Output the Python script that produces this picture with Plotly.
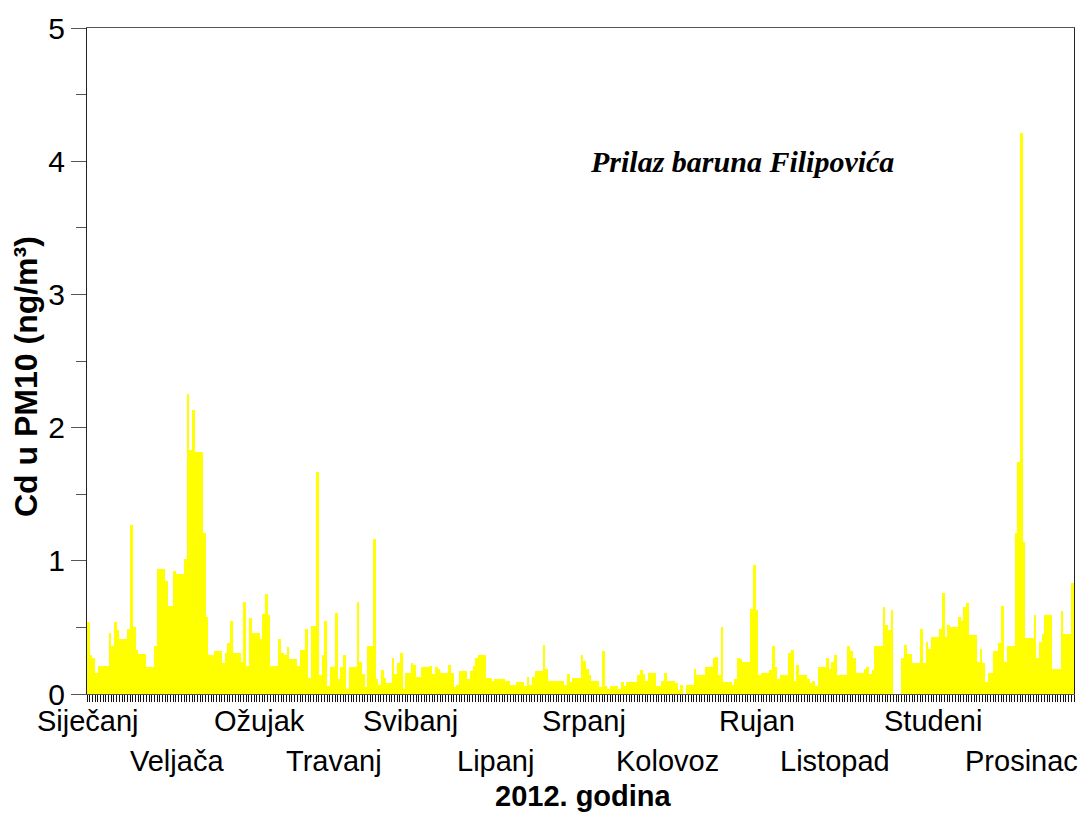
import plotly.graph_objects as go

# ---- data: daily Cd in PM10 (ng/m3), 2012 ----
jan = [0.54, 0.29, 0.27, 0.16, 0.21, 0.21, 0.21, 0.21, 0.46, 0.36, 0.54, 0.48, 0.41, 0.41, 0.41, 0.49,
       1.27, 0.50, 0.33, 0.30, 0.30, 0.30, 0.20, 0.20, 0.20, 0.36, 0.94, 0.94, 0.94, 0.85, 0.66]
feb = [0.66, 0.92, 0.90, 0.90, 0.90, 1.01, 2.25, 1.83, 2.13, 1.82, 1.82, 1.82, 1.21, 0.58, 0.29, 0.29,
       0.32, 0.32, 0.32, 0.23, 0.31, 0.38, 0.55, 0.31, 0.31, 0.31, 0.24, 0.69, 0.21]
mar = [0.57, 0.46, 0.46, 0.46, 0.41, 0.60, 0.75, 0.59, 0.21, 0.21, 0.21, 0.41, 0.31, 0.29, 0.35, 0.26,
       0.26, 0.26, 0.21, 0.33, 0.33, 0.49, 0.12, 0.51, 0.51, 1.67, 0.14, 0.29, 0.55, 0.06, 0.20]
apr = [0.20, 0.61, 0.11, 0.20, 0.29, 0.04, 0.20, 0.20, 0.20, 0.69, 0.24, 0.15, 0.05, 0.36, 0.36, 1.16,
       0.11, 0.07, 0.18, 0.12, 0.08, 0.08, 0.27, 0.15, 0.23, 0.31, 0.04, 0.16, 0.16, 0.23]
may = [0.22, 0.13, 0.13, 0.20, 0.20, 0.20, 0.21, 0.15, 0.20, 0.19, 0.16, 0.16, 0.16, 0.22, 0.16, 0.05,
       0.07, 0.17, 0.17, 0.17, 0.11, 0.17, 0.21, 0.27, 0.29, 0.29, 0.29, 0.12, 0.12, 0.10, 0.11]
jun = [0.11, 0.11, 0.11, 0.10, 0.10, 0.07, 0.07, 0.09, 0.09, 0.09, 0.06, 0.13, 0.07, 0.13, 0.17, 0.17,
       0.17, 0.37, 0.19, 0.10, 0.10, 0.10, 0.10, 0.10, 0.10, 0.07, 0.15, 0.09, 0.12, 0.12]
jul = [0.12, 0.29, 0.25, 0.19, 0.14, 0.10, 0.10, 0.10, 0.05, 0.32, 0.06, 0.04, 0.06, 0.06, 0.06, 0.04,
       0.09, 0.06, 0.09, 0.09, 0.09, 0.09, 0.14, 0.18, 0.15, 0.10, 0.16, 0.16, 0.16, 0.06, 0.06]
aug = [0.10, 0.16, 0.10, 0.10, 0.10, 0.08, 0.03, 0.07, 0.00, 0.07, 0.07, 0.07, 0.19, 0.14, 0.14, 0.14,
       0.20, 0.20, 0.20, 0.27, 0.28, 0.14, 0.50, 0.09, 0.09, 0.09, 0.07, 0.11, 0.27, 0.26, 0.24]
sep = [0.24, 0.24, 0.64, 0.97, 0.63, 0.14, 0.16, 0.16, 0.16, 0.18, 0.36, 0.20, 0.11, 0.14, 0.14, 0.14,
       0.31, 0.33, 0.10, 0.22, 0.14, 0.14, 0.14, 0.11, 0.08, 0.10, 0.06, 0.20, 0.20, 0.20]
oct_ = [0.27, 0.19, 0.24, 0.29, 0.14, 0.14, 0.14, 0.14, 0.36, 0.32, 0.27, 0.16, 0.16, 0.16, 0.19, 0.20,
        0.15, 0.18, 0.36, 0.36, 0.36, 0.65, 0.52, 0.48, 0.63, 0.00, 0.00, 0.00, 0.27, 0.37, 0.30]
nov = [0.30, 0.23, 0.23, 0.23, 0.49, 0.23, 0.39, 0.34, 0.43, 0.43, 0.43, 0.49, 0.76, 0.43, 0.52, 0.50,
       0.50, 0.50, 0.58, 0.55, 0.65, 0.68, 0.44, 0.44, 0.44, 0.24, 0.34, 0.23, 0.09, 0.16]
dec = [0.16, 0.32, 0.32, 0.38, 0.66, 0.24, 0.36, 0.36, 0.36, 1.21, 1.74, 4.21, 1.14, 0.42, 0.42, 0.42,
       0.59, 0.27, 0.39, 0.45, 0.59, 0.59, 0.59, 0.19, 0.19, 0.19, 0.62, 0.45, 0.45, 0.45, 0.83]

month_names = ["Siječanj", "Veljača", "Ožujak", "Travanj", "Svibanj", "Lipanj",
               "Srpanj", "Kolovoz", "Rujan", "Listopad", "Studeni", "Prosinac"]
month_label_day = [0.4, 33.4, 64.1, 91.6, 119.8, 151.6, 184.3, 215.4, 248.4, 277.3, 313.7, 346.7]
y_ticks = [0, 1, 2, 3, 4, 5]

values = jan + feb + mar + apr + may + jun + jul + aug + sep + oct_ + nov + dec
day_centers = [i + 0.5 for i in range(len(values))]

fig = go.Figure(go.Bar(
    x=day_centers, y=values, width=1,
    marker=dict(color="#FFFF00", line=dict(width=0)),
    hoverinfo="x+y",
))

FONT = "Liberation Sans, Arial, sans-serif"

fig.update_layout(
    width=1086, height=814,
    margin=dict(l=87, r=12, t=28, b=120),
    plot_bgcolor="white", paper_bgcolor="white",
    bargap=0, showlegend=False,
    font=dict(family=FONT, color="black"),
)

fig.update_xaxes(
    range=[0, len(values)], tickmode="linear", tick0=0, dtick=1,
    ticks="outside", ticklen=7, tickwidth=1, tickcolor="#111",
    showticklabels=False, showgrid=False, zeroline=False,
    showline=True, linecolor="#555", linewidth=1, mirror=True,
    layer="below traces",
)
fig.update_yaxes(
    range=[0, 5], tickmode="array", tickvals=y_ticks,
    ticks="outside", ticklen=15, tickwidth=1, tickcolor="#555",
    tickfont=dict(size=30, family=FONT, color="black"),
    minor=dict(dtick=0.5, ticks="outside", ticklen=10, tickwidth=1, tickcolor="#555", showgrid=False),
    showgrid=False, zeroline=False,
    showline=True, linecolor="#222", linewidth=1, mirror=True,
)

annotations = []
for i, (name, d) in enumerate(zip(month_names, month_label_day)):
    annotations.append(dict(
        x=d, xref="x", y=-0.040 if i % 2 == 0 else -0.1006, yref="paper",
        text=name, showarrow=False, xanchor="center", yanchor="middle", borderpad=0,
        font=dict(size=29, family=FONT, color="black"),
    ))
annotations.append(dict(
    x=0.503, y=-0.153, xref="paper", yref="paper", text="<b>2012. godina</b>",
    showarrow=False, xanchor="center", yanchor="middle", borderpad=0,
    font=dict(size=29, family=FONT, color="black"),
))
annotations.append(dict(
    x=-0.0618, y=0.476, xref="paper", yref="paper", text="<b>Cd u PM10 (ng/m³)</b>",
    textangle=-90, showarrow=False, xanchor="center", yanchor="middle", borderpad=0,
    font=dict(size=32, family=FONT, color="black"),
))
annotations.append(dict(
    x=0.6636, y=0.799, xref="paper", yref="paper", text="<b><i>Prilaz baruna Filipovića</i></b>",
    showarrow=False, xanchor="center", yanchor="middle", borderpad=0,
    font=dict(size=30, family="Liberation Serif, Times New Roman, serif", color="black"),
))
fig.update_layout(annotations=annotations)

fig.write_html(
    "out.html",
    config={"displayModeBar": False},
    post_script="document.body.style.margin='0';document.body.style.padding='0';",
)
